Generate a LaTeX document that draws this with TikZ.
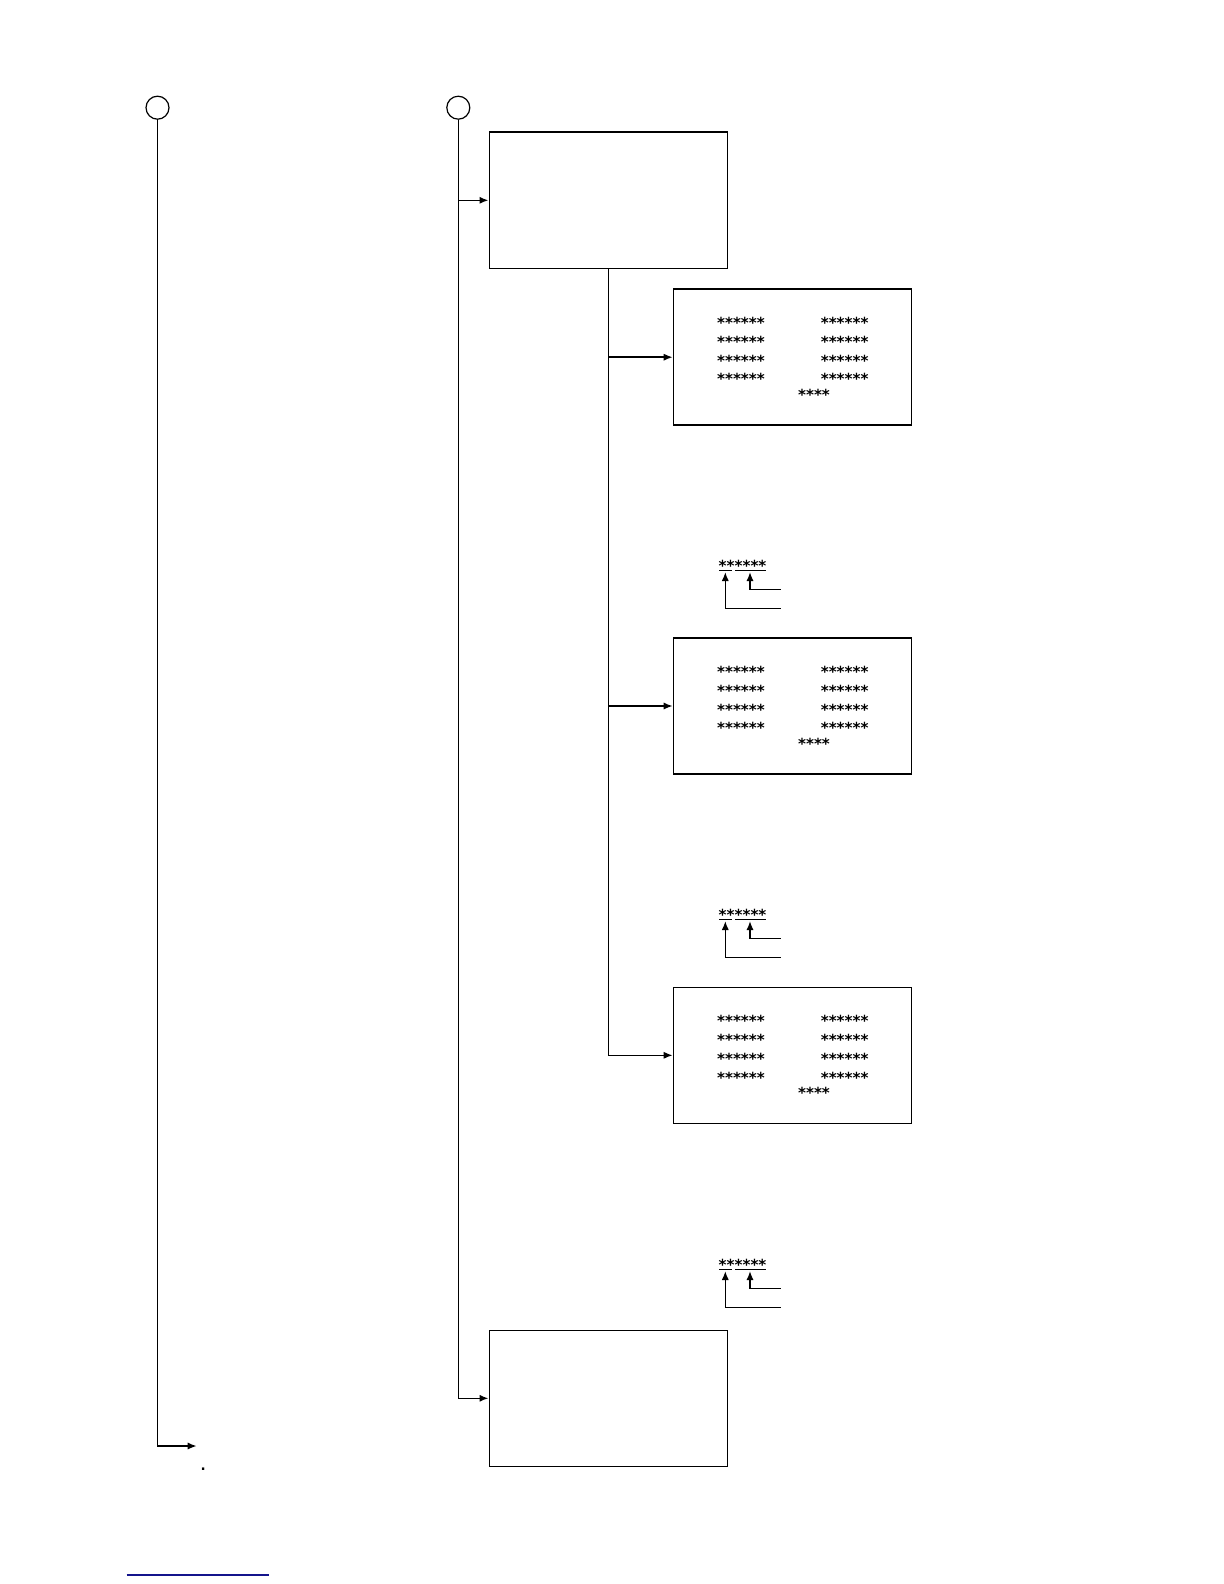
\documentclass[tikz,border=0pt]{standalone}
\usepackage{fontspec}
\setmainfont{Liberation Sans}
\newfontfamily\starfont{DejaVu Sans}
\usetikzlibrary{arrows.meta}
\definecolor{linkblue}{RGB}{20,20,140}
\begin{document}
\begin{tikzpicture}[x=0.5pt,y=-0.5pt,
 line/.style={line width=0.8pt},
 arr/.style={line width=0.8pt,-{Latex[length=4.5pt,width=3.6pt]}},
 blk/.style={draw,line width=0.8pt,minimum width=119pt,minimum height=68pt,inner sep=0pt},
 term/.style={draw,circle,line width=0.6pt,minimum size=11.5pt,inner sep=0pt},
 stars/.style={font=\starfont\bfseries\fontsize{7.6}{9}\selectfont,inner sep=0pt,anchor=base west}]
\useasboundingbox (0,0) rectangle (1224,1584);
\node[term] (c1) at (157.5,107.7) {};
\node[term] (c2) at (458.3,107.7) {};
\node[blk] (B1) at (608.3,200.3) {};
\node[blk] (B2) at (792.5,357.2) {};
\node[blk] (B3) at (792.5,706) {};
\node[blk] (B4) at (792.5,1055.3) {};
\node[blk] (B5) at (608.3,1398.3) {};
\coordinate (e1) at (196.7,1446);
\draw[arr] (c1.south) |- (e1);
\draw[arr] (c2.south) |- (B5.west);
\draw[arr] (c2.south |- B1.west) -- (B1.west);
\draw[arr] (B1.south) |- (B4.west);
\draw[arr] (B1.south |- B2.west) -- (B2.west);
\draw[arr] (B1.south |- B3.west) -- (B3.west);
\foreach \b in {B2,B3,B4}{
 \foreach \dy [count=\i] in {-37.5,-18.8,0,18.6}{
  \node[stars] (\b-l\i) at ([shift={(44,\dy+9.1)}]\b.west) {******};
  \node[stars] (\b-r\i) at ([shift={(147.7,\dy+9.1)}]\b.west) {******};
 }
 \node[stars] (\b-m) at ([shift={(125,43.1)}]\b.west) {****};
}
\foreach \k/\dy in {1/0,2/349,3/699}{
 \node[stars] (L\k) at (718.3,571.8+\dy) {******};
 \draw[line] (719,570.3+\dy) -- (731.7,570.3+\dy);
 \draw[line] (735,570.3+\dy) -- (766,570.3+\dy);
 \coordinate (p\k) at (780.7,608.3+\dy);
 \coordinate (q\k) at (780.7,589.3+\dy);
 \coordinate (u\k) at (725.3,572+\dy);
 \coordinate (v\k) at (750,572+\dy);
 \draw[arr] (p\k) -| (u\k);
 \draw[arr] (q\k) -| (v\k);
}
\node[font=\fontsize{12}{14}\selectfont,inner sep=0pt,anchor=base] (dot) at (203.3,1470) {.};
\coordinate (bl1) at (126.7,1575);
\coordinate (bl2) at (269,1575);
\draw[linkblue,line width=0.75pt] (bl1) -- (bl2);
\end{tikzpicture}
\end{document}
